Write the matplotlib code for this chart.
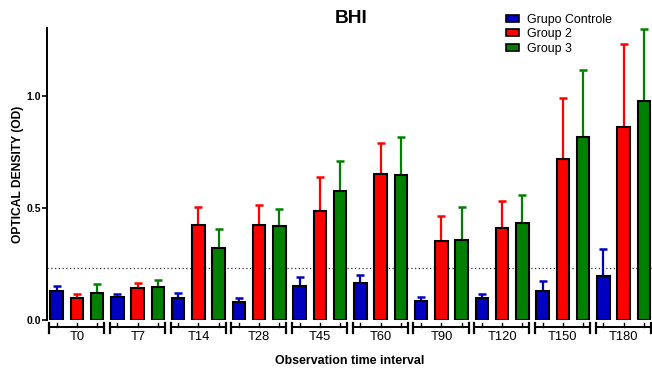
import matplotlib
matplotlib.use("Agg")
import matplotlib.pyplot as plt
from matplotlib.patches import Patch
import numpy as np

plt.rcParams['font.family'] = ['Liberation Sans', 'DejaVu Sans']

# Time points and mean optical density / upper SD per group
times = ['T0', 'T7', 'T14', 'T28', 'T45', 'T60', 'T90', 'T120', 'T150', 'T180']
controle = [0.131, 0.104, 0.100, 0.080, 0.152, 0.164, 0.085, 0.100, 0.129, 0.195]
controle_err = [0.021, 0.011, 0.020, 0.017, 0.040, 0.037, 0.019, 0.018, 0.047, 0.122]
group2 = [0.097, 0.141, 0.426, 0.424, 0.485, 0.652, 0.351, 0.409, 0.719, 0.863]
group2_err = [0.019, 0.023, 0.077, 0.089, 0.155, 0.137, 0.113, 0.122, 0.271, 0.371]
group3 = [0.120, 0.149, 0.320, 0.420, 0.577, 0.646, 0.359, 0.434, 0.818, 0.978]
group3_err = [0.041, 0.030, 0.088, 0.077, 0.133, 0.172, 0.147, 0.124, 0.298, 0.322]
cutoff = 0.232

series = [
    ('Grupo Controle', controle, controle_err, '#0000c0'),
    ('Group 2', group2, group2_err, '#ff0000'),
    ('Group 3', group3, group3_err, '#008000'),
]

fig = plt.figure(figsize=(6.52, 3.72), dpi=100)
ax = fig.add_axes([47 / 652, 52 / 372, 605 / 652, 292.3 / 372])

group_x = np.arange(len(times)) * 3
width = 0.62

for i, (name, vals, errs, color) in enumerate(series):
    x = group_x + i
    ax.bar(x, vals, width=width, color=color, edgecolor='black', linewidth=1.5, zorder=3)
    ax.errorbar(x, vals, yerr=[np.zeros(len(errs)), errs], fmt='none', ecolor=color,
                elinewidth=1.6, capsize=3, capthick=1.8, zorder=2)

# cutoff line
ax.axhline(cutoff, color='#333333', linestyle=(0, (1, 2)), linewidth=0.9, zorder=1)

ax.set_xlim(-0.48, 29.4)
ax.set_ylim(0, 1.305)
ax.set_yticks([0.0, 0.5, 1.0])
ax.set_yticklabels(['0.0', '0.5', '1.0'], fontsize=7.5, fontweight='bold')
ax.tick_params(axis='y', length=3.5, width=1.2, pad=1)
ax.set_xticks([])
for s in ['top', 'right', 'bottom']:
    ax.spines[s].set_visible(False)
ax.spines['left'].set_linewidth(1.4)

# segmented x axis, one bracket per time point
trans = ax.get_xaxis_transform()
yseg = -7 / 292.3
ycap0, ycap1 = -2.5 / 292.3, -12.5 / 292.3
ytick = -3 / 292.3
for gx, label in zip(group_x, times):
    x0, x1 = gx - 0.38, gx + 2.34
    ax.plot([x0, x1], [yseg, yseg], color='black', lw=1.4, transform=trans, clip_on=False)
    ax.plot([x0, x0], [ycap0, ycap1], color='black', lw=1.6, transform=trans, clip_on=False)
    ax.plot([x1, x1], [ycap0, ycap1], color='black', lw=1.6, transform=trans, clip_on=False)
    for k in range(3):
        ax.plot([gx + k, gx + k], [yseg, ytick], color='black', lw=1.0, transform=trans, clip_on=False)
    ax.text(gx + 1, -16.5 / 292.3, label, transform=trans, ha='center', va='center', fontsize=9.3)

ax.text(0.5, -41.5 / 292.3, 'Observation time interval', transform=ax.transAxes,
        ha='center', va='center', fontsize=8.9, fontweight='bold')
fig.text(18 / 652, 1 - 174 / 372, 'OPTICAL DENSITY (OD)', rotation=90, ha='center', va='center',
         fontsize=8.7, fontweight='bold')
fig.text(351 / 652, 1 - 18.3 / 372, 'BHI', ha='center', va='center', fontsize=13.8, fontweight='bold')

handles = [Patch(facecolor=c, edgecolor='black', linewidth=1.2) for _, _, _, c in series]
fig.legend(handles, [s[0] for s in series], loc='upper left', bbox_to_anchor=(497 / 652, 1 - 5 / 372),
           frameon=False, fontsize=8.9, handlelength=1.05, handleheight=0.55, handletextpad=0.65,
           labelspacing=0.2, borderpad=0.2)

fig.savefig('out.png', dpi=100)
